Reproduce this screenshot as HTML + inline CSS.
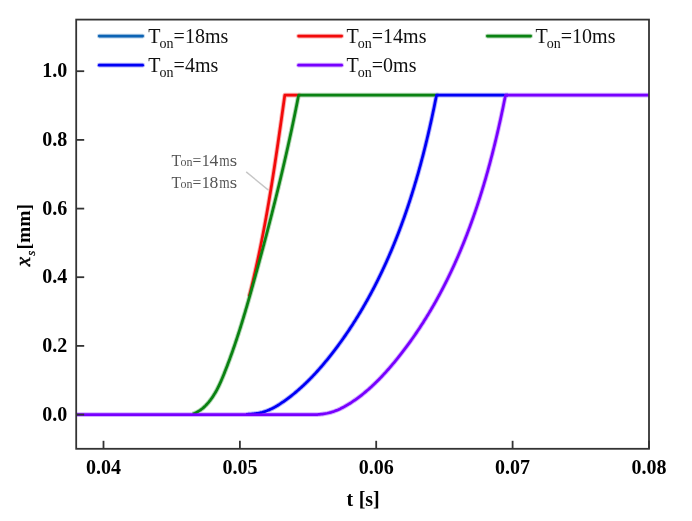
<!DOCTYPE html>
<html><head><meta charset="utf-8"><style>
html,body{margin:0;padding:0;background:#fff;}
svg{display:block;will-change:transform;}
text{font-family:"Liberation Serif",serif;}
</style></head><body>
<svg width="692" height="521" viewBox="0 0 692 521">
<rect x="0" y="0" width="692" height="521" fill="#fff"/>
<g fill="none" stroke-width="2.75" stroke-linejoin="round" stroke-linecap="butt">
<g stroke-opacity="1" opacity="0.3" stroke-width="4.7">
<path d="M249.14,296.51 L249.41,295.46 L249.68,294.41 L249.94,293.36 L250.21,292.31 L250.47,291.26 L250.73,290.20 L250.99,289.15 L251.25,288.10 L251.51,287.05 L251.77,285.99 L252.02,284.94 L252.28,283.88 L252.53,282.83 L252.78,281.77 L253.03,280.72 L253.28,279.66 L253.53,278.61 L253.78,277.55 L254.02,276.49 L254.27,275.44 L254.51,274.38 L254.75,273.32 L254.99,272.26 L255.23,271.20 L255.47,270.15 L255.71,269.09 L255.95,268.03 L256.18,266.97 L256.42,265.91 L256.65,264.85 L256.89,263.78 L257.12,262.72 L257.35,261.66 L257.58,260.60 L257.81,259.54 L258.03,258.47 L258.26,257.41 L258.49,256.35 L258.71,255.29 L258.93,254.22 L259.16,253.16 L259.38,252.09 L259.60,251.03 L259.82,249.96 L260.04,248.90 L260.25,247.83 L260.47,246.77 L260.69,245.70 L260.90,244.64 L261.12,243.57 L261.33,242.50 L261.54,241.43 L261.75,240.37 L261.96,239.30 L262.17,238.23 L262.38,237.16 L262.59,236.10 L262.79,235.03 L263.00,233.96 L263.20,232.89 L263.41,231.82 L263.61,230.75 L263.81,229.68 L264.02,228.61 L264.22,227.54 L264.42,226.47 L264.62,225.40 L264.81,224.33 L265.01,223.26 L265.21,222.19 L265.40,221.12 L265.60,220.04 L265.79,218.97 L265.99,217.90 L266.18,216.83 L266.37,215.76 L266.56,214.68 L266.76,213.61 L266.95,212.54 L267.13,211.46 L267.32,210.39 L267.51,209.32 L267.70,208.24 L267.88,207.17 L268.07,206.10 L268.26,205.02 L268.44,203.95 L268.62,202.87 L268.81,201.80 L268.99,200.72 L269.17,199.65 L269.35,198.57 L269.53,197.50 L269.71,196.42 L269.89,195.35 L270.07,194.27 L270.25,193.20 L270.42,192.12 L270.60,191.05 L270.78,189.97 L270.95,188.89 L271.13,187.82 L271.30,186.74 L271.48,185.67 L271.65,184.59 L271.82,183.51 L272.00,182.44 L272.17,181.36 L272.34,180.28 L272.51,179.20 L272.68,178.13 L272.85,177.05 L273.02,175.97 L273.19,174.90 L273.36,173.82 L273.52,172.74 L273.69,171.66 L273.86,170.59 L274.02,169.51 L274.19,168.43 L274.36,167.35 L274.52,166.28 L274.69,165.20 L274.85,164.12 L275.01,163.04 L275.18,161.97 L275.34,160.89 L275.50,159.81 L275.66,158.73 L275.83,157.65 L275.99,156.58 L276.15,155.50 L276.31,154.42 L276.47,153.34 L276.63,152.26 L276.79,151.19 L276.95,150.11 L277.11,149.03 L277.27,147.95 L277.43,146.87 L277.58,145.80 L277.74,144.72 L277.90,143.64 L278.06,142.56 L278.21,141.48 L278.37,140.41 L278.53,139.33 L278.68,138.25 L278.84,137.17 L278.99,136.10 L279.15,135.02 L279.30,133.94 L279.46,132.86 L279.61,131.78 L279.77,130.71 L279.92,129.63 L280.08,128.55 L280.23,127.48 L280.39,126.40 L280.54,125.32 L280.69,124.24 L280.85,123.17 L281.00,122.09 L281.15,121.01 L281.31,119.94 L281.46,118.86 L281.61,117.78 L281.76,116.71 L281.92,115.63 L282.07,114.55 L282.22,113.48 L282.37,112.40 L282.52,111.33 L282.68,110.25 L282.83,109.17 L282.98,108.10 L283.13,107.02 L283.28,105.95 L283.44,104.87 L283.59,103.80 L283.74,102.72 L283.89,101.65 L284.04,100.57 L284.19,99.50 L284.35,98.42 L284.50,97.35 L284.65,96.27 L284.80,95.20 L300.50,95.20" stroke="#f20a0a"/>
<path d="M192.70,413.89 L193.71,413.56 L194.71,413.18 L195.69,412.77 L196.65,412.31 L197.60,411.81 L198.53,411.27 L199.44,410.70 L200.33,410.10 L201.21,409.46 L202.07,408.79 L202.91,408.10 L203.74,407.38 L204.55,406.63 L205.34,405.87 L206.11,405.08 L206.87,404.27 L207.61,403.45 L208.33,402.62 L209.04,401.77 L209.72,400.91 L210.40,400.04 L211.05,399.16 L211.69,398.26 L212.32,397.36 L212.93,396.45 L213.53,395.53 L214.11,394.60 L214.68,393.66 L215.24,392.71 L215.79,391.75 L216.32,390.79 L216.84,389.82 L217.36,388.84 L217.86,387.86 L218.35,386.87 L218.84,385.88 L219.31,384.88 L219.78,383.87 L220.24,382.87 L220.70,381.85 L221.14,380.84 L221.58,379.82 L222.02,378.79 L222.45,377.77 L222.87,376.74 L223.29,375.71 L223.71,374.68 L224.12,373.65 L224.53,372.62 L224.94,371.59 L225.35,370.56 L225.75,369.53 L226.15,368.49 L226.55,367.46 L226.95,366.43 L227.35,365.39 L227.74,364.36 L228.13,363.33 L228.52,362.29 L228.90,361.26 L229.29,360.22 L229.67,359.19 L230.05,358.15 L230.42,357.12 L230.80,356.08 L231.17,355.04 L231.54,354.01 L231.91,352.97 L232.28,351.93 L232.65,350.90 L233.01,349.86 L233.37,348.82 L233.73,347.78 L234.09,346.74 L234.44,345.70 L234.80,344.67 L235.15,343.63 L235.50,342.59 L235.85,341.55 L236.20,340.51 L236.54,339.47 L236.89,338.43 L237.23,337.38 L237.57,336.34 L237.91,335.30 L238.25,334.26 L238.58,333.22 L238.92,332.18 L239.25,331.13 L239.58,330.09 L239.91,329.05 L240.24,328.00 L240.57,326.96 L240.90,325.92 L241.22,324.87 L241.54,323.83 L241.87,322.78 L242.19,321.74 L242.51,320.69 L242.83,319.65 L243.14,318.60 L243.46,317.56 L243.78,316.51 L244.09,315.46 L244.40,314.42 L244.72,313.37 L245.03,312.32 L245.34,311.28 L245.65,310.23 L245.95,309.18 L246.26,308.13 L246.57,307.09 L246.87,306.04 L247.18,304.99 L247.48,303.94 L247.78,302.89 L248.08,301.84 L248.39,300.79 L248.69,299.74 L248.99,298.69 L249.29,297.64 L249.58,296.59 L249.88,295.54 L250.18,294.49 L250.48,293.44 L250.77,292.39 L251.07,291.33 L251.36,290.28 L251.66,289.23 L251.95,288.18 L252.24,287.13 L252.54,286.07 L252.83,285.02 L253.12,283.97 L253.42,282.91 L253.71,281.86 L254.00,280.81 L254.29,279.75 L254.58,278.70 L254.87,277.64 L255.16,276.59 L255.45,275.53 L255.74,274.48 L256.03,273.42 L256.32,272.37 L256.61,271.31 L256.90,270.26 L257.19,269.20 L257.48,268.14 L257.76,267.09 L258.05,266.03 L258.34,264.97 L258.63,263.92 L258.91,262.86 L259.20,261.80 L259.49,260.74 L259.77,259.69 L260.06,258.63 L260.34,257.57 L260.63,256.51 L260.92,255.45 L261.20,254.39 L261.48,253.34 L261.77,252.28 L262.05,251.22 L262.33,250.16 L262.62,249.10 L262.90,248.04 L263.18,246.98 L263.47,245.92 L263.75,244.86 L264.03,243.80 L264.31,242.74 L264.59,241.68 L264.87,240.61 L265.15,239.55 L265.43,238.49 L265.71,237.43 L265.99,236.37 L266.27,235.31 L266.55,234.24 L266.82,233.18 L267.10,232.12 L267.38,231.06 L267.65,229.99 L267.93,228.93 L268.21,227.87 L268.48,226.81 L268.76,225.74 L269.03,224.68 L269.31,223.61 L269.58,222.55 L269.86,221.49 L270.13,220.42 L270.40,219.36 L270.67,218.29 L270.95,217.23 L271.22,216.17 L271.49,215.10 L271.76,214.04 L272.03,212.97 L272.30,211.90 L272.57,210.84 L272.84,209.77 L273.11,208.71 L273.38,207.64 L273.64,206.58 L273.91,205.51 L274.18,204.44 L274.44,203.38 L274.71,202.31 L274.98,201.24 L275.24,200.18 L275.51,199.11 L275.77,198.04 L276.04,196.98 L276.30,195.91 L276.56,194.84 L276.82,193.78 L277.09,192.71 L277.35,191.64 L277.61,190.57 L277.87,189.50 L278.13,188.44 L278.39,187.37 L278.65,186.30 L278.91,185.23 L279.16,184.16 L279.42,183.09 L279.68,182.03 L279.94,180.96 L280.19,179.89 L280.45,178.82 L280.70,177.75 L280.96,176.68 L281.21,175.61 L281.47,174.54 L281.72,173.47 L281.97,172.40 L282.22,171.33 L282.47,170.26 L282.73,169.19 L282.98,168.12 L283.23,167.05 L283.48,165.98 L283.72,164.91 L283.97,163.84 L284.22,162.77 L284.47,161.70 L284.71,160.63 L284.96,159.56 L285.21,158.49 L285.45,157.42 L285.69,156.35 L285.94,155.28 L286.18,154.20 L286.42,153.13 L286.67,152.06 L286.91,150.99 L287.15,149.92 L287.39,148.85 L287.63,147.78 L287.87,146.70 L288.11,145.63 L288.34,144.56 L288.58,143.49 L288.82,142.42 L289.06,141.34 L289.29,140.27 L289.53,139.20 L289.76,138.13 L289.99,137.06 L290.23,135.98 L290.46,134.91 L290.69,133.84 L290.92,132.77 L291.15,131.69 L291.38,130.62 L291.61,129.55 L291.84,128.48 L292.07,127.40 L292.30,126.33 L292.52,125.26 L292.75,124.18 L292.97,123.11 L293.20,122.04 L293.42,120.96 L293.65,119.89 L293.87,118.82 L294.09,117.75 L294.31,116.67 L294.53,115.60 L294.75,114.53 L294.97,113.45 L295.19,112.38 L295.41,111.31 L295.63,110.23 L295.85,109.16 L296.06,108.08 L296.28,107.01 L296.49,105.94 L296.71,104.86 L296.92,103.79 L297.13,102.72 L297.34,101.64 L297.55,100.57 L297.76,99.50 L297.97,98.42 L298.18,97.35 L298.39,96.27 L298.60,95.20 L438.50,95.20" stroke="#0a8212"/>
<path d="M246.05,414.34 L247.31,414.28 L248.57,414.21 L249.83,414.13 L251.08,414.03 L252.34,413.92 L253.59,413.79 L254.84,413.64 L256.09,413.47 L257.33,413.27 L258.56,413.06 L259.79,412.82 L261.00,412.55 L262.21,412.26 L263.41,411.94 L264.60,411.59 L265.78,411.20 L266.95,410.79 L268.10,410.34 L269.24,409.87 L270.38,409.36 L271.50,408.84 L272.61,408.29 L273.71,407.71 L274.80,407.11 L275.89,406.50 L276.96,405.87 L278.03,405.21 L279.09,404.55 L280.14,403.87 L281.18,403.18 L282.22,402.48 L283.25,401.77 L284.28,401.05 L285.30,400.32 L286.32,399.59 L287.33,398.85 L288.33,398.10 L289.33,397.34 L290.32,396.58 L291.30,395.81 L292.29,395.03 L293.26,394.24 L294.23,393.45 L295.20,392.65 L296.16,391.85 L297.11,391.04 L298.06,390.22 L299.00,389.39 L299.94,388.56 L300.87,387.72 L301.80,386.88 L302.73,386.03 L303.64,385.18 L304.56,384.32 L305.47,383.45 L306.37,382.58 L307.27,381.70 L308.16,380.82 L309.05,379.93 L309.93,379.04 L310.81,378.14 L311.69,377.24 L312.56,376.33 L313.43,375.42 L314.29,374.50 L315.15,373.58 L316.00,372.65 L316.85,371.72 L317.69,370.79 L318.53,369.85 L319.37,368.91 L320.20,367.96 L321.03,367.01 L321.85,366.06 L322.67,365.10 L323.48,364.14 L324.29,363.17 L325.10,362.20 L325.90,361.23 L326.70,360.26 L327.50,359.28 L328.29,358.30 L329.08,357.32 L329.87,356.33 L330.65,355.34 L331.42,354.35 L332.20,353.36 L332.97,352.36 L333.73,351.36 L334.50,350.36 L335.26,349.36 L336.01,348.35 L336.77,347.35 L337.52,346.34 L338.26,345.33 L339.01,344.31 L339.75,343.30 L340.48,342.28 L341.22,341.26 L341.95,340.24 L342.67,339.22 L343.40,338.19 L344.12,337.16 L344.83,336.13 L345.55,335.10 L346.26,334.07 L346.96,333.03 L347.67,332.00 L348.37,330.96 L349.06,329.91 L349.76,328.87 L350.45,327.83 L351.13,326.78 L351.82,325.73 L352.50,324.68 L353.18,323.62 L353.85,322.57 L354.52,321.51 L355.19,320.45 L355.86,319.39 L356.52,318.33 L357.18,317.27 L357.83,316.20 L358.49,315.13 L359.13,314.06 L359.78,312.99 L360.42,311.92 L361.06,310.84 L361.70,309.77 L362.34,308.69 L362.97,307.61 L363.60,306.53 L364.22,305.44 L364.84,304.36 L365.46,303.27 L366.08,302.18 L366.69,301.09 L367.30,300.00 L367.91,298.91 L368.51,297.81 L369.11,296.71 L369.71,295.61 L370.31,294.51 L370.90,293.41 L371.49,292.31 L372.08,291.20 L372.66,290.10 L373.24,288.99 L373.82,287.88 L374.39,286.77 L374.97,285.66 L375.54,284.54 L376.10,283.43 L376.67,282.31 L377.23,281.19 L377.79,280.07 L378.34,278.95 L378.89,277.82 L379.44,276.70 L379.99,275.57 L380.54,274.45 L381.08,273.32 L381.62,272.19 L382.15,271.05 L382.69,269.92 L383.22,268.79 L383.74,267.65 L384.27,266.51 L384.79,265.38 L385.31,264.24 L385.83,263.09 L386.35,261.95 L386.86,260.81 L387.37,259.66 L387.87,258.52 L388.38,257.37 L388.88,256.22 L389.38,255.07 L389.88,253.92 L390.37,252.77 L390.86,251.61 L391.35,250.46 L391.84,249.30 L392.32,248.14 L392.80,246.99 L393.28,245.83 L393.76,244.67 L394.23,243.50 L394.70,242.34 L395.17,241.18 L395.64,240.01 L396.10,238.84 L396.56,237.68 L397.02,236.51 L397.48,235.34 L397.93,234.17 L398.38,233.00 L398.83,231.82 L399.28,230.65 L399.72,229.47 L400.17,228.30 L400.61,227.12 L401.04,225.94 L401.48,224.77 L401.91,223.59 L402.34,222.40 L402.77,221.22 L403.19,220.04 L403.62,218.86 L404.04,217.67 L404.46,216.49 L404.88,215.30 L405.29,214.11 L405.70,212.93 L406.11,211.74 L406.52,210.55 L406.93,209.36 L407.33,208.17 L407.73,206.97 L408.13,205.78 L408.53,204.59 L408.92,203.39 L409.31,202.20 L409.70,201.00 L410.09,199.80 L410.48,198.61 L410.86,197.41 L411.24,196.21 L411.62,195.01 L412.00,193.81 L412.37,192.61 L412.75,191.41 L413.12,190.20 L413.49,189.00 L413.86,187.80 L414.22,186.59 L414.58,185.39 L414.95,184.18 L415.30,182.97 L415.66,181.77 L416.02,180.56 L416.37,179.35 L416.72,178.14 L417.07,176.93 L417.42,175.72 L417.76,174.51 L418.11,173.30 L418.45,172.09 L418.79,170.88 L419.13,169.67 L419.46,168.46 L419.80,167.24 L420.13,166.03 L420.46,164.81 L420.79,163.60 L421.11,162.38 L421.44,161.17 L421.76,159.95 L422.08,158.74 L422.40,157.52 L422.72,156.30 L423.03,155.09 L423.35,153.87 L423.66,152.65 L423.97,151.43 L424.28,150.21 L424.58,148.99 L424.89,147.77 L425.19,146.55 L425.49,145.33 L425.79,144.11 L426.09,142.89 L426.39,141.67 L426.68,140.45 L426.98,139.23 L427.27,138.01 L427.56,136.79 L427.85,135.57 L428.13,134.34 L428.42,133.12 L428.70,131.90 L428.98,130.68 L429.26,129.45 L429.54,128.23 L429.82,127.01 L430.09,125.79 L430.37,124.56 L430.64,123.34 L430.91,122.12 L431.18,120.89 L431.45,119.67 L431.71,118.44 L431.98,117.22 L432.24,116.00 L432.50,114.77 L432.77,113.55 L433.02,112.33 L433.28,111.10 L433.54,109.88 L433.79,108.66 L434.05,107.43 L434.30,106.21 L434.55,104.99 L434.80,103.76 L435.04,102.54 L435.29,101.32 L435.54,100.09 L435.78,98.87 L436.02,97.65 L436.26,96.42 L436.50,95.20 L508.00,95.20" stroke="#0000f5"/>
<path d="M76.20,414.65 L305.99,414.62 L307.24,414.65 L308.50,414.65 L309.76,414.65 L311.01,414.65 L312.27,414.65 L313.53,414.65 L314.79,414.65 L316.05,414.63 L317.30,414.56 L318.55,414.47 L319.80,414.36 L321.04,414.23 L322.28,414.08 L323.52,413.91 L324.75,413.72 L325.97,413.50 L327.19,413.26 L328.40,412.99 L329.60,412.70 L330.80,412.38 L331.98,412.03 L333.16,411.66 L334.33,411.26 L335.48,410.83 L336.63,410.38 L337.77,409.91 L338.90,409.41 L340.03,408.90 L341.14,408.36 L342.25,407.80 L343.35,407.23 L344.44,406.64 L345.52,406.03 L346.60,405.41 L347.67,404.77 L348.73,404.12 L349.79,403.46 L350.83,402.79 L351.88,402.11 L352.91,401.42 L353.94,400.72 L354.97,400.01 L355.99,399.29 L357.00,398.57 L358.00,397.83 L359.00,397.08 L360.00,396.33 L360.98,395.57 L361.97,394.80 L362.94,394.02 L363.91,393.23 L364.88,392.44 L365.84,391.63 L366.79,390.82 L367.74,390.01 L368.68,389.18 L369.62,388.35 L370.55,387.51 L371.48,386.66 L372.40,385.81 L373.31,384.95 L374.23,384.09 L375.13,383.21 L376.03,382.34 L376.93,381.45 L377.82,380.56 L378.71,379.67 L379.59,378.77 L380.46,377.86 L381.34,376.95 L382.20,376.03 L383.07,375.11 L383.92,374.18 L384.78,373.25 L385.63,372.32 L386.47,371.38 L387.31,370.44 L388.15,369.49 L388.98,368.54 L389.81,367.58 L390.64,366.63 L391.46,365.66 L392.27,364.70 L393.09,363.73 L393.89,362.76 L394.70,361.79 L395.50,360.81 L396.30,359.83 L397.09,358.85 L397.88,357.87 L398.67,356.88 L399.45,355.89 L400.23,354.90 L401.01,353.91 L401.78,352.92 L402.55,351.92 L403.31,350.92 L404.07,349.92 L404.83,348.92 L405.59,347.92 L406.34,346.91 L407.09,345.90 L407.83,344.89 L408.57,343.88 L409.31,342.86 L410.04,341.85 L410.77,340.83 L411.50,339.81 L412.23,338.78 L412.95,337.76 L413.66,336.73 L414.38,335.70 L415.09,334.67 L415.80,333.64 L416.50,332.61 L417.20,331.57 L417.90,330.53 L418.59,329.49 L419.28,328.45 L419.97,327.40 L420.66,326.36 L421.34,325.31 L422.01,324.26 L422.69,323.21 L423.36,322.15 L424.03,321.10 L424.69,320.04 L425.35,318.98 L426.01,317.92 L426.67,316.86 L427.32,315.80 L427.97,314.73 L428.62,313.66 L429.26,312.59 L429.90,311.52 L430.53,310.45 L431.17,309.37 L431.80,308.30 L432.43,307.22 L433.05,306.14 L433.67,305.06 L434.29,303.97 L434.91,302.89 L435.52,301.80 L436.13,300.71 L436.73,299.63 L437.34,298.53 L437.94,297.44 L438.53,296.35 L439.13,295.25 L439.72,294.15 L440.31,293.05 L440.89,291.95 L441.47,290.85 L442.05,289.75 L442.63,288.64 L443.20,287.53 L443.78,286.42 L444.34,285.31 L444.91,284.20 L445.47,283.09 L446.03,281.97 L446.59,280.86 L447.14,279.74 L447.69,278.62 L448.24,277.50 L448.79,276.38 L449.33,275.26 L449.87,274.13 L450.41,273.01 L450.94,271.88 L451.47,270.75 L452.00,269.62 L452.53,268.49 L453.05,267.36 L453.57,266.22 L454.09,265.09 L454.61,263.95 L455.12,262.81 L455.63,261.67 L456.14,260.53 L456.64,259.39 L457.14,258.25 L457.64,257.10 L458.14,255.96 L458.64,254.81 L459.13,253.66 L459.62,252.51 L460.10,251.36 L460.59,250.21 L461.07,249.06 L461.55,247.90 L462.03,246.75 L462.50,245.59 L462.97,244.43 L463.44,243.27 L463.91,242.11 L464.37,240.95 L464.83,239.79 L465.29,238.63 L465.75,237.46 L466.20,236.30 L466.66,235.13 L467.11,233.96 L467.55,232.79 L468.00,231.62 L468.44,230.45 L468.88,229.28 L469.32,228.11 L469.75,226.94 L470.19,225.76 L470.62,224.59 L471.05,223.41 L471.47,222.23 L471.90,221.05 L472.32,219.87 L472.74,218.69 L473.16,217.51 L473.57,216.33 L473.98,215.15 L474.39,213.96 L474.80,212.78 L475.21,211.59 L475.61,210.41 L476.01,209.22 L476.41,208.03 L476.81,206.84 L477.21,205.65 L477.60,204.46 L477.99,203.27 L478.38,202.08 L478.77,200.88 L479.15,199.69 L479.53,198.49 L479.91,197.30 L480.29,196.10 L480.67,194.90 L481.04,193.71 L481.41,192.51 L481.78,191.31 L482.15,190.11 L482.52,188.91 L482.88,187.71 L483.25,186.51 L483.61,185.30 L483.96,184.10 L484.32,182.90 L484.67,181.69 L485.03,180.49 L485.38,179.28 L485.73,178.08 L486.07,176.87 L486.42,175.66 L486.76,174.45 L487.10,173.25 L487.44,172.04 L487.78,170.83 L488.11,169.62 L488.45,168.41 L488.78,167.20 L489.11,165.98 L489.44,164.77 L489.76,163.56 L490.09,162.35 L490.41,161.13 L490.73,159.92 L491.05,158.70 L491.37,157.49 L491.68,156.27 L492.00,155.06 L492.31,153.84 L492.62,152.63 L492.93,151.41 L493.24,150.19 L493.54,148.97 L493.85,147.76 L494.15,146.54 L494.45,145.32 L494.75,144.10 L495.05,142.88 L495.34,141.66 L495.64,140.44 L495.93,139.22 L496.22,138.00 L496.51,136.78 L496.80,135.56 L497.08,134.34 L497.37,133.12 L497.65,131.90 L497.93,130.68 L498.22,129.45 L498.49,128.23 L498.77,127.01 L499.05,125.79 L499.32,124.56 L499.60,123.34 L499.87,122.12 L500.14,120.90 L500.41,119.67 L500.67,118.45 L500.94,117.23 L501.20,116.00 L501.47,114.78 L501.73,113.56 L501.99,112.33 L502.25,111.11 L502.51,109.88 L502.76,108.66 L503.02,107.44 L503.27,106.21 L503.52,104.99 L503.77,103.77 L504.02,102.54 L504.27,101.32 L504.52,100.09 L504.77,98.87 L505.01,97.65 L505.26,96.42 L505.50,95.20 L649.00,95.20" stroke="#7700ff"/>
</g>
<path d="M249.14,296.51 L249.41,295.46 L249.68,294.41 L249.94,293.36 L250.21,292.31 L250.47,291.26 L250.73,290.20 L250.99,289.15 L251.25,288.10 L251.51,287.05 L251.77,285.99 L252.02,284.94 L252.28,283.88 L252.53,282.83 L252.78,281.77 L253.03,280.72 L253.28,279.66 L253.53,278.61 L253.78,277.55 L254.02,276.49 L254.27,275.44 L254.51,274.38 L254.75,273.32 L254.99,272.26 L255.23,271.20 L255.47,270.15 L255.71,269.09 L255.95,268.03 L256.18,266.97 L256.42,265.91 L256.65,264.85 L256.89,263.78 L257.12,262.72 L257.35,261.66 L257.58,260.60 L257.81,259.54 L258.03,258.47 L258.26,257.41 L258.49,256.35 L258.71,255.29 L258.93,254.22 L259.16,253.16 L259.38,252.09 L259.60,251.03 L259.82,249.96 L260.04,248.90 L260.25,247.83 L260.47,246.77 L260.69,245.70 L260.90,244.64 L261.12,243.57 L261.33,242.50 L261.54,241.43 L261.75,240.37 L261.96,239.30 L262.17,238.23 L262.38,237.16 L262.59,236.10 L262.79,235.03 L263.00,233.96 L263.20,232.89 L263.41,231.82 L263.61,230.75 L263.81,229.68 L264.02,228.61 L264.22,227.54 L264.42,226.47 L264.62,225.40 L264.81,224.33 L265.01,223.26 L265.21,222.19 L265.40,221.12 L265.60,220.04 L265.79,218.97 L265.99,217.90 L266.18,216.83 L266.37,215.76 L266.56,214.68 L266.76,213.61 L266.95,212.54 L267.13,211.46 L267.32,210.39 L267.51,209.32 L267.70,208.24 L267.88,207.17 L268.07,206.10 L268.26,205.02 L268.44,203.95 L268.62,202.87 L268.81,201.80 L268.99,200.72 L269.17,199.65 L269.35,198.57 L269.53,197.50 L269.71,196.42 L269.89,195.35 L270.07,194.27 L270.25,193.20 L270.42,192.12 L270.60,191.05 L270.78,189.97 L270.95,188.89 L271.13,187.82 L271.30,186.74 L271.48,185.67 L271.65,184.59 L271.82,183.51 L272.00,182.44 L272.17,181.36 L272.34,180.28 L272.51,179.20 L272.68,178.13 L272.85,177.05 L273.02,175.97 L273.19,174.90 L273.36,173.82 L273.52,172.74 L273.69,171.66 L273.86,170.59 L274.02,169.51 L274.19,168.43 L274.36,167.35 L274.52,166.28 L274.69,165.20 L274.85,164.12 L275.01,163.04 L275.18,161.97 L275.34,160.89 L275.50,159.81 L275.66,158.73 L275.83,157.65 L275.99,156.58 L276.15,155.50 L276.31,154.42 L276.47,153.34 L276.63,152.26 L276.79,151.19 L276.95,150.11 L277.11,149.03 L277.27,147.95 L277.43,146.87 L277.58,145.80 L277.74,144.72 L277.90,143.64 L278.06,142.56 L278.21,141.48 L278.37,140.41 L278.53,139.33 L278.68,138.25 L278.84,137.17 L278.99,136.10 L279.15,135.02 L279.30,133.94 L279.46,132.86 L279.61,131.78 L279.77,130.71 L279.92,129.63 L280.08,128.55 L280.23,127.48 L280.39,126.40 L280.54,125.32 L280.69,124.24 L280.85,123.17 L281.00,122.09 L281.15,121.01 L281.31,119.94 L281.46,118.86 L281.61,117.78 L281.76,116.71 L281.92,115.63 L282.07,114.55 L282.22,113.48 L282.37,112.40 L282.52,111.33 L282.68,110.25 L282.83,109.17 L282.98,108.10 L283.13,107.02 L283.28,105.95 L283.44,104.87 L283.59,103.80 L283.74,102.72 L283.89,101.65 L284.04,100.57 L284.19,99.50 L284.35,98.42 L284.50,97.35 L284.65,96.27 L284.80,95.20 L300.50,95.20" stroke="#f20a0a"/>
<path d="M192.70,413.89 L193.71,413.56 L194.71,413.18 L195.69,412.77 L196.65,412.31 L197.60,411.81 L198.53,411.27 L199.44,410.70 L200.33,410.10 L201.21,409.46 L202.07,408.79 L202.91,408.10 L203.74,407.38 L204.55,406.63 L205.34,405.87 L206.11,405.08 L206.87,404.27 L207.61,403.45 L208.33,402.62 L209.04,401.77 L209.72,400.91 L210.40,400.04 L211.05,399.16 L211.69,398.26 L212.32,397.36 L212.93,396.45 L213.53,395.53 L214.11,394.60 L214.68,393.66 L215.24,392.71 L215.79,391.75 L216.32,390.79 L216.84,389.82 L217.36,388.84 L217.86,387.86 L218.35,386.87 L218.84,385.88 L219.31,384.88 L219.78,383.87 L220.24,382.87 L220.70,381.85 L221.14,380.84 L221.58,379.82 L222.02,378.79 L222.45,377.77 L222.87,376.74 L223.29,375.71 L223.71,374.68 L224.12,373.65 L224.53,372.62 L224.94,371.59 L225.35,370.56 L225.75,369.53 L226.15,368.49 L226.55,367.46 L226.95,366.43 L227.35,365.39 L227.74,364.36 L228.13,363.33 L228.52,362.29 L228.90,361.26 L229.29,360.22 L229.67,359.19 L230.05,358.15 L230.42,357.12 L230.80,356.08 L231.17,355.04 L231.54,354.01 L231.91,352.97 L232.28,351.93 L232.65,350.90 L233.01,349.86 L233.37,348.82 L233.73,347.78 L234.09,346.74 L234.44,345.70 L234.80,344.67 L235.15,343.63 L235.50,342.59 L235.85,341.55 L236.20,340.51 L236.54,339.47 L236.89,338.43 L237.23,337.38 L237.57,336.34 L237.91,335.30 L238.25,334.26 L238.58,333.22 L238.92,332.18 L239.25,331.13 L239.58,330.09 L239.91,329.05 L240.24,328.00 L240.57,326.96 L240.90,325.92 L241.22,324.87 L241.54,323.83 L241.87,322.78 L242.19,321.74 L242.51,320.69 L242.83,319.65 L243.14,318.60 L243.46,317.56 L243.78,316.51 L244.09,315.46 L244.40,314.42 L244.72,313.37 L245.03,312.32 L245.34,311.28 L245.65,310.23 L245.95,309.18 L246.26,308.13 L246.57,307.09 L246.87,306.04 L247.18,304.99 L247.48,303.94 L247.78,302.89 L248.08,301.84 L248.39,300.79 L248.69,299.74 L248.99,298.69 L249.29,297.64 L249.58,296.59 L249.88,295.54 L250.18,294.49 L250.48,293.44 L250.77,292.39 L251.07,291.33 L251.36,290.28 L251.66,289.23 L251.95,288.18 L252.24,287.13 L252.54,286.07 L252.83,285.02 L253.12,283.97 L253.42,282.91 L253.71,281.86 L254.00,280.81 L254.29,279.75 L254.58,278.70 L254.87,277.64 L255.16,276.59 L255.45,275.53 L255.74,274.48 L256.03,273.42 L256.32,272.37 L256.61,271.31 L256.90,270.26 L257.19,269.20 L257.48,268.14 L257.76,267.09 L258.05,266.03 L258.34,264.97 L258.63,263.92 L258.91,262.86 L259.20,261.80 L259.49,260.74 L259.77,259.69 L260.06,258.63 L260.34,257.57 L260.63,256.51 L260.92,255.45 L261.20,254.39 L261.48,253.34 L261.77,252.28 L262.05,251.22 L262.33,250.16 L262.62,249.10 L262.90,248.04 L263.18,246.98 L263.47,245.92 L263.75,244.86 L264.03,243.80 L264.31,242.74 L264.59,241.68 L264.87,240.61 L265.15,239.55 L265.43,238.49 L265.71,237.43 L265.99,236.37 L266.27,235.31 L266.55,234.24 L266.82,233.18 L267.10,232.12 L267.38,231.06 L267.65,229.99 L267.93,228.93 L268.21,227.87 L268.48,226.81 L268.76,225.74 L269.03,224.68 L269.31,223.61 L269.58,222.55 L269.86,221.49 L270.13,220.42 L270.40,219.36 L270.67,218.29 L270.95,217.23 L271.22,216.17 L271.49,215.10 L271.76,214.04 L272.03,212.97 L272.30,211.90 L272.57,210.84 L272.84,209.77 L273.11,208.71 L273.38,207.64 L273.64,206.58 L273.91,205.51 L274.18,204.44 L274.44,203.38 L274.71,202.31 L274.98,201.24 L275.24,200.18 L275.51,199.11 L275.77,198.04 L276.04,196.98 L276.30,195.91 L276.56,194.84 L276.82,193.78 L277.09,192.71 L277.35,191.64 L277.61,190.57 L277.87,189.50 L278.13,188.44 L278.39,187.37 L278.65,186.30 L278.91,185.23 L279.16,184.16 L279.42,183.09 L279.68,182.03 L279.94,180.96 L280.19,179.89 L280.45,178.82 L280.70,177.75 L280.96,176.68 L281.21,175.61 L281.47,174.54 L281.72,173.47 L281.97,172.40 L282.22,171.33 L282.47,170.26 L282.73,169.19 L282.98,168.12 L283.23,167.05 L283.48,165.98 L283.72,164.91 L283.97,163.84 L284.22,162.77 L284.47,161.70 L284.71,160.63 L284.96,159.56 L285.21,158.49 L285.45,157.42 L285.69,156.35 L285.94,155.28 L286.18,154.20 L286.42,153.13 L286.67,152.06 L286.91,150.99 L287.15,149.92 L287.39,148.85 L287.63,147.78 L287.87,146.70 L288.11,145.63 L288.34,144.56 L288.58,143.49 L288.82,142.42 L289.06,141.34 L289.29,140.27 L289.53,139.20 L289.76,138.13 L289.99,137.06 L290.23,135.98 L290.46,134.91 L290.69,133.84 L290.92,132.77 L291.15,131.69 L291.38,130.62 L291.61,129.55 L291.84,128.48 L292.07,127.40 L292.30,126.33 L292.52,125.26 L292.75,124.18 L292.97,123.11 L293.20,122.04 L293.42,120.96 L293.65,119.89 L293.87,118.82 L294.09,117.75 L294.31,116.67 L294.53,115.60 L294.75,114.53 L294.97,113.45 L295.19,112.38 L295.41,111.31 L295.63,110.23 L295.85,109.16 L296.06,108.08 L296.28,107.01 L296.49,105.94 L296.71,104.86 L296.92,103.79 L297.13,102.72 L297.34,101.64 L297.55,100.57 L297.76,99.50 L297.97,98.42 L298.18,97.35 L298.39,96.27 L298.60,95.20 L438.50,95.20" stroke="#0a8212"/>
<path d="M246.05,414.34 L247.31,414.28 L248.57,414.21 L249.83,414.13 L251.08,414.03 L252.34,413.92 L253.59,413.79 L254.84,413.64 L256.09,413.47 L257.33,413.27 L258.56,413.06 L259.79,412.82 L261.00,412.55 L262.21,412.26 L263.41,411.94 L264.60,411.59 L265.78,411.20 L266.95,410.79 L268.10,410.34 L269.24,409.87 L270.38,409.36 L271.50,408.84 L272.61,408.29 L273.71,407.71 L274.80,407.11 L275.89,406.50 L276.96,405.87 L278.03,405.21 L279.09,404.55 L280.14,403.87 L281.18,403.18 L282.22,402.48 L283.25,401.77 L284.28,401.05 L285.30,400.32 L286.32,399.59 L287.33,398.85 L288.33,398.10 L289.33,397.34 L290.32,396.58 L291.30,395.81 L292.29,395.03 L293.26,394.24 L294.23,393.45 L295.20,392.65 L296.16,391.85 L297.11,391.04 L298.06,390.22 L299.00,389.39 L299.94,388.56 L300.87,387.72 L301.80,386.88 L302.73,386.03 L303.64,385.18 L304.56,384.32 L305.47,383.45 L306.37,382.58 L307.27,381.70 L308.16,380.82 L309.05,379.93 L309.93,379.04 L310.81,378.14 L311.69,377.24 L312.56,376.33 L313.43,375.42 L314.29,374.50 L315.15,373.58 L316.00,372.65 L316.85,371.72 L317.69,370.79 L318.53,369.85 L319.37,368.91 L320.20,367.96 L321.03,367.01 L321.85,366.06 L322.67,365.10 L323.48,364.14 L324.29,363.17 L325.10,362.20 L325.90,361.23 L326.70,360.26 L327.50,359.28 L328.29,358.30 L329.08,357.32 L329.87,356.33 L330.65,355.34 L331.42,354.35 L332.20,353.36 L332.97,352.36 L333.73,351.36 L334.50,350.36 L335.26,349.36 L336.01,348.35 L336.77,347.35 L337.52,346.34 L338.26,345.33 L339.01,344.31 L339.75,343.30 L340.48,342.28 L341.22,341.26 L341.95,340.24 L342.67,339.22 L343.40,338.19 L344.12,337.16 L344.83,336.13 L345.55,335.10 L346.26,334.07 L346.96,333.03 L347.67,332.00 L348.37,330.96 L349.06,329.91 L349.76,328.87 L350.45,327.83 L351.13,326.78 L351.82,325.73 L352.50,324.68 L353.18,323.62 L353.85,322.57 L354.52,321.51 L355.19,320.45 L355.86,319.39 L356.52,318.33 L357.18,317.27 L357.83,316.20 L358.49,315.13 L359.13,314.06 L359.78,312.99 L360.42,311.92 L361.06,310.84 L361.70,309.77 L362.34,308.69 L362.97,307.61 L363.60,306.53 L364.22,305.44 L364.84,304.36 L365.46,303.27 L366.08,302.18 L366.69,301.09 L367.30,300.00 L367.91,298.91 L368.51,297.81 L369.11,296.71 L369.71,295.61 L370.31,294.51 L370.90,293.41 L371.49,292.31 L372.08,291.20 L372.66,290.10 L373.24,288.99 L373.82,287.88 L374.39,286.77 L374.97,285.66 L375.54,284.54 L376.10,283.43 L376.67,282.31 L377.23,281.19 L377.79,280.07 L378.34,278.95 L378.89,277.82 L379.44,276.70 L379.99,275.57 L380.54,274.45 L381.08,273.32 L381.62,272.19 L382.15,271.05 L382.69,269.92 L383.22,268.79 L383.74,267.65 L384.27,266.51 L384.79,265.38 L385.31,264.24 L385.83,263.09 L386.35,261.95 L386.86,260.81 L387.37,259.66 L387.87,258.52 L388.38,257.37 L388.88,256.22 L389.38,255.07 L389.88,253.92 L390.37,252.77 L390.86,251.61 L391.35,250.46 L391.84,249.30 L392.32,248.14 L392.80,246.99 L393.28,245.83 L393.76,244.67 L394.23,243.50 L394.70,242.34 L395.17,241.18 L395.64,240.01 L396.10,238.84 L396.56,237.68 L397.02,236.51 L397.48,235.34 L397.93,234.17 L398.38,233.00 L398.83,231.82 L399.28,230.65 L399.72,229.47 L400.17,228.30 L400.61,227.12 L401.04,225.94 L401.48,224.77 L401.91,223.59 L402.34,222.40 L402.77,221.22 L403.19,220.04 L403.62,218.86 L404.04,217.67 L404.46,216.49 L404.88,215.30 L405.29,214.11 L405.70,212.93 L406.11,211.74 L406.52,210.55 L406.93,209.36 L407.33,208.17 L407.73,206.97 L408.13,205.78 L408.53,204.59 L408.92,203.39 L409.31,202.20 L409.70,201.00 L410.09,199.80 L410.48,198.61 L410.86,197.41 L411.24,196.21 L411.62,195.01 L412.00,193.81 L412.37,192.61 L412.75,191.41 L413.12,190.20 L413.49,189.00 L413.86,187.80 L414.22,186.59 L414.58,185.39 L414.95,184.18 L415.30,182.97 L415.66,181.77 L416.02,180.56 L416.37,179.35 L416.72,178.14 L417.07,176.93 L417.42,175.72 L417.76,174.51 L418.11,173.30 L418.45,172.09 L418.79,170.88 L419.13,169.67 L419.46,168.46 L419.80,167.24 L420.13,166.03 L420.46,164.81 L420.79,163.60 L421.11,162.38 L421.44,161.17 L421.76,159.95 L422.08,158.74 L422.40,157.52 L422.72,156.30 L423.03,155.09 L423.35,153.87 L423.66,152.65 L423.97,151.43 L424.28,150.21 L424.58,148.99 L424.89,147.77 L425.19,146.55 L425.49,145.33 L425.79,144.11 L426.09,142.89 L426.39,141.67 L426.68,140.45 L426.98,139.23 L427.27,138.01 L427.56,136.79 L427.85,135.57 L428.13,134.34 L428.42,133.12 L428.70,131.90 L428.98,130.68 L429.26,129.45 L429.54,128.23 L429.82,127.01 L430.09,125.79 L430.37,124.56 L430.64,123.34 L430.91,122.12 L431.18,120.89 L431.45,119.67 L431.71,118.44 L431.98,117.22 L432.24,116.00 L432.50,114.77 L432.77,113.55 L433.02,112.33 L433.28,111.10 L433.54,109.88 L433.79,108.66 L434.05,107.43 L434.30,106.21 L434.55,104.99 L434.80,103.76 L435.04,102.54 L435.29,101.32 L435.54,100.09 L435.78,98.87 L436.02,97.65 L436.26,96.42 L436.50,95.20 L508.00,95.20" stroke="#0000f5"/>
<path d="M76.20,414.65 L305.99,414.62 L307.24,414.65 L308.50,414.65 L309.76,414.65 L311.01,414.65 L312.27,414.65 L313.53,414.65 L314.79,414.65 L316.05,414.63 L317.30,414.56 L318.55,414.47 L319.80,414.36 L321.04,414.23 L322.28,414.08 L323.52,413.91 L324.75,413.72 L325.97,413.50 L327.19,413.26 L328.40,412.99 L329.60,412.70 L330.80,412.38 L331.98,412.03 L333.16,411.66 L334.33,411.26 L335.48,410.83 L336.63,410.38 L337.77,409.91 L338.90,409.41 L340.03,408.90 L341.14,408.36 L342.25,407.80 L343.35,407.23 L344.44,406.64 L345.52,406.03 L346.60,405.41 L347.67,404.77 L348.73,404.12 L349.79,403.46 L350.83,402.79 L351.88,402.11 L352.91,401.42 L353.94,400.72 L354.97,400.01 L355.99,399.29 L357.00,398.57 L358.00,397.83 L359.00,397.08 L360.00,396.33 L360.98,395.57 L361.97,394.80 L362.94,394.02 L363.91,393.23 L364.88,392.44 L365.84,391.63 L366.79,390.82 L367.74,390.01 L368.68,389.18 L369.62,388.35 L370.55,387.51 L371.48,386.66 L372.40,385.81 L373.31,384.95 L374.23,384.09 L375.13,383.21 L376.03,382.34 L376.93,381.45 L377.82,380.56 L378.71,379.67 L379.59,378.77 L380.46,377.86 L381.34,376.95 L382.20,376.03 L383.07,375.11 L383.92,374.18 L384.78,373.25 L385.63,372.32 L386.47,371.38 L387.31,370.44 L388.15,369.49 L388.98,368.54 L389.81,367.58 L390.64,366.63 L391.46,365.66 L392.27,364.70 L393.09,363.73 L393.89,362.76 L394.70,361.79 L395.50,360.81 L396.30,359.83 L397.09,358.85 L397.88,357.87 L398.67,356.88 L399.45,355.89 L400.23,354.90 L401.01,353.91 L401.78,352.92 L402.55,351.92 L403.31,350.92 L404.07,349.92 L404.83,348.92 L405.59,347.92 L406.34,346.91 L407.09,345.90 L407.83,344.89 L408.57,343.88 L409.31,342.86 L410.04,341.85 L410.77,340.83 L411.50,339.81 L412.23,338.78 L412.95,337.76 L413.66,336.73 L414.38,335.70 L415.09,334.67 L415.80,333.64 L416.50,332.61 L417.20,331.57 L417.90,330.53 L418.59,329.49 L419.28,328.45 L419.97,327.40 L420.66,326.36 L421.34,325.31 L422.01,324.26 L422.69,323.21 L423.36,322.15 L424.03,321.10 L424.69,320.04 L425.35,318.98 L426.01,317.92 L426.67,316.86 L427.32,315.80 L427.97,314.73 L428.62,313.66 L429.26,312.59 L429.90,311.52 L430.53,310.45 L431.17,309.37 L431.80,308.30 L432.43,307.22 L433.05,306.14 L433.67,305.06 L434.29,303.97 L434.91,302.89 L435.52,301.80 L436.13,300.71 L436.73,299.63 L437.34,298.53 L437.94,297.44 L438.53,296.35 L439.13,295.25 L439.72,294.15 L440.31,293.05 L440.89,291.95 L441.47,290.85 L442.05,289.75 L442.63,288.64 L443.20,287.53 L443.78,286.42 L444.34,285.31 L444.91,284.20 L445.47,283.09 L446.03,281.97 L446.59,280.86 L447.14,279.74 L447.69,278.62 L448.24,277.50 L448.79,276.38 L449.33,275.26 L449.87,274.13 L450.41,273.01 L450.94,271.88 L451.47,270.75 L452.00,269.62 L452.53,268.49 L453.05,267.36 L453.57,266.22 L454.09,265.09 L454.61,263.95 L455.12,262.81 L455.63,261.67 L456.14,260.53 L456.64,259.39 L457.14,258.25 L457.64,257.10 L458.14,255.96 L458.64,254.81 L459.13,253.66 L459.62,252.51 L460.10,251.36 L460.59,250.21 L461.07,249.06 L461.55,247.90 L462.03,246.75 L462.50,245.59 L462.97,244.43 L463.44,243.27 L463.91,242.11 L464.37,240.95 L464.83,239.79 L465.29,238.63 L465.75,237.46 L466.20,236.30 L466.66,235.13 L467.11,233.96 L467.55,232.79 L468.00,231.62 L468.44,230.45 L468.88,229.28 L469.32,228.11 L469.75,226.94 L470.19,225.76 L470.62,224.59 L471.05,223.41 L471.47,222.23 L471.90,221.05 L472.32,219.87 L472.74,218.69 L473.16,217.51 L473.57,216.33 L473.98,215.15 L474.39,213.96 L474.80,212.78 L475.21,211.59 L475.61,210.41 L476.01,209.22 L476.41,208.03 L476.81,206.84 L477.21,205.65 L477.60,204.46 L477.99,203.27 L478.38,202.08 L478.77,200.88 L479.15,199.69 L479.53,198.49 L479.91,197.30 L480.29,196.10 L480.67,194.90 L481.04,193.71 L481.41,192.51 L481.78,191.31 L482.15,190.11 L482.52,188.91 L482.88,187.71 L483.25,186.51 L483.61,185.30 L483.96,184.10 L484.32,182.90 L484.67,181.69 L485.03,180.49 L485.38,179.28 L485.73,178.08 L486.07,176.87 L486.42,175.66 L486.76,174.45 L487.10,173.25 L487.44,172.04 L487.78,170.83 L488.11,169.62 L488.45,168.41 L488.78,167.20 L489.11,165.98 L489.44,164.77 L489.76,163.56 L490.09,162.35 L490.41,161.13 L490.73,159.92 L491.05,158.70 L491.37,157.49 L491.68,156.27 L492.00,155.06 L492.31,153.84 L492.62,152.63 L492.93,151.41 L493.24,150.19 L493.54,148.97 L493.85,147.76 L494.15,146.54 L494.45,145.32 L494.75,144.10 L495.05,142.88 L495.34,141.66 L495.64,140.44 L495.93,139.22 L496.22,138.00 L496.51,136.78 L496.80,135.56 L497.08,134.34 L497.37,133.12 L497.65,131.90 L497.93,130.68 L498.22,129.45 L498.49,128.23 L498.77,127.01 L499.05,125.79 L499.32,124.56 L499.60,123.34 L499.87,122.12 L500.14,120.90 L500.41,119.67 L500.67,118.45 L500.94,117.23 L501.20,116.00 L501.47,114.78 L501.73,113.56 L501.99,112.33 L502.25,111.11 L502.51,109.88 L502.76,108.66 L503.02,107.44 L503.27,106.21 L503.52,104.99 L503.77,103.77 L504.02,102.54 L504.27,101.32 L504.52,100.09 L504.77,98.87 L505.01,97.65 L505.26,96.42 L505.50,95.20 L649.00,95.20" stroke="#7700ff"/>
</g>
<g stroke="#333" stroke-width="1.8" fill="none">
<rect x="76.2" y="19.6" width="572.8" height="429.2"/>
<line x1="103.5" y1="448.8" x2="103.5" y2="440.8"/><line x1="239.9" y1="448.8" x2="239.9" y2="440.8"/><line x1="376.2" y1="448.8" x2="376.2" y2="440.8"/><line x1="512.6" y1="448.8" x2="512.6" y2="440.8"/><line x1="649.0" y1="448.8" x2="649.0" y2="440.8"/><line x1="76.2" y1="414.6" x2="84.2" y2="414.6"/><line x1="76.2" y1="345.9" x2="84.2" y2="345.9"/><line x1="76.2" y1="277.2" x2="84.2" y2="277.2"/><line x1="76.2" y1="208.6" x2="84.2" y2="208.6"/><line x1="76.2" y1="139.9" x2="84.2" y2="139.9"/><line x1="76.2" y1="71.2" x2="84.2" y2="71.2"/>
</g>
<g font-size="20" font-weight="bold" fill="#000">
<text x="103.5" y="474" text-anchor="middle">0.04</text><text x="239.9" y="474" text-anchor="middle">0.05</text><text x="376.2" y="474" text-anchor="middle">0.06</text><text x="512.6" y="474" text-anchor="middle">0.07</text><text x="649.0" y="474" text-anchor="middle">0.08</text>
<text x="67.3" y="420.7" text-anchor="end">0.0</text><text x="67.3" y="352.0" text-anchor="end">0.2</text><text x="67.3" y="283.3" text-anchor="end">0.4</text><text x="67.3" y="214.7" text-anchor="end">0.6</text><text x="67.3" y="146.0" text-anchor="end">0.8</text><text x="67.3" y="77.3" text-anchor="end">1.0</text>
<text x="363.1" y="506" text-anchor="middle">t <tspan dx="0.6">[s]</tspan></text>
<text transform="translate(29.9,266.2) rotate(-90)"><tspan font-style="italic" font-weight="normal" font-size="21" stroke="#000" stroke-width="0.5">x</tspan><tspan font-style="italic" font-weight="normal" font-size="13" stroke="#000" stroke-width="0.3" dy="5.2" dx="1.2">s</tspan><tspan font-size="19.5" dy="-5.2" dx="1.1">[mm]</tspan></text>
</g>
<g font-size="20" fill="#111">
<line x1="99.3" y1="36.1" x2="142.6" y2="36.1" stroke="#0c63b4" stroke-width="4.7" stroke-opacity="0.3" stroke-linecap="round"/><line x1="99.3" y1="36.1" x2="142.6" y2="36.1" stroke="#0c63b4" stroke-width="2.75" stroke-linecap="round"/><text x="148.3" y="43.0">T<tspan font-size="14" dy="5.3" dx="-0.9">on</tspan><tspan dy="-5.3">=18ms</tspan></text><line x1="298.6" y1="36.1" x2="341.6" y2="36.1" stroke="#f20a0a" stroke-width="4.7" stroke-opacity="0.3" stroke-linecap="round"/><line x1="298.6" y1="36.1" x2="341.6" y2="36.1" stroke="#f20a0a" stroke-width="2.75" stroke-linecap="round"/><text x="346.5" y="43.0">T<tspan font-size="14" dy="5.3" dx="-0.9">on</tspan><tspan dy="-5.3">=14ms</tspan></text><line x1="487.4" y1="36.1" x2="530.6" y2="36.1" stroke="#0a8212" stroke-width="4.7" stroke-opacity="0.3" stroke-linecap="round"/><line x1="487.4" y1="36.1" x2="530.6" y2="36.1" stroke="#0a8212" stroke-width="2.75" stroke-linecap="round"/><text x="535.5" y="43.0">T<tspan font-size="14" dy="5.3" dx="-0.9">on</tspan><tspan dy="-5.3">=10ms</tspan></text><line x1="99.3" y1="65.2" x2="142.6" y2="65.2" stroke="#0000f5" stroke-width="4.7" stroke-opacity="0.3" stroke-linecap="round"/><line x1="99.3" y1="65.2" x2="142.6" y2="65.2" stroke="#0000f5" stroke-width="2.75" stroke-linecap="round"/><text x="148.3" y="72.10000000000001">T<tspan font-size="14" dy="5.3" dx="-0.9">on</tspan><tspan dy="-5.3">=4ms</tspan></text><line x1="298.6" y1="65.2" x2="341.6" y2="65.2" stroke="#7700ff" stroke-width="4.7" stroke-opacity="0.3" stroke-linecap="round"/><line x1="298.6" y1="65.2" x2="341.6" y2="65.2" stroke="#7700ff" stroke-width="2.75" stroke-linecap="round"/><text x="346.5" y="72.10000000000001">T<tspan font-size="14" dy="5.3" dx="-0.9">on</tspan><tspan dy="-5.3">=0ms</tspan></text>
</g>
<line x1="246.2" y1="171.9" x2="268.4" y2="190.1" stroke="#c6c6c6" stroke-width="1.4"/>
<g font-size="17.6" fill="#555"><text y="166.4"><tspan x="171.6" textLength="9.6" lengthAdjust="spacingAndGlyphs">T</tspan><tspan font-size="11.8" x="180.5" textLength="12" lengthAdjust="spacingAndGlyphs">on</tspan><tspan x="192.6" textLength="8.8" lengthAdjust="spacingAndGlyphs">=</tspan><tspan x="201.8" textLength="8" lengthAdjust="spacingAndGlyphs">1</tspan><tspan x="209.4" textLength="8.8" lengthAdjust="spacingAndGlyphs">4</tspan><tspan x="219.2" textLength="10.4" lengthAdjust="spacingAndGlyphs">m</tspan><tspan x="229.8" textLength="7.4" lengthAdjust="spacingAndGlyphs">s</tspan></text><text y="187.9"><tspan x="171.6" textLength="9.6" lengthAdjust="spacingAndGlyphs">T</tspan><tspan font-size="11.8" x="180.5" textLength="12" lengthAdjust="spacingAndGlyphs">on</tspan><tspan x="192.6" textLength="8.8" lengthAdjust="spacingAndGlyphs">=</tspan><tspan x="201.8" textLength="8" lengthAdjust="spacingAndGlyphs">1</tspan><tspan x="209.4" textLength="8.8" lengthAdjust="spacingAndGlyphs">8</tspan><tspan x="219.2" textLength="10.4" lengthAdjust="spacingAndGlyphs">m</tspan><tspan x="229.8" textLength="7.4" lengthAdjust="spacingAndGlyphs">s</tspan></text></g>
</svg>
</body></html>
